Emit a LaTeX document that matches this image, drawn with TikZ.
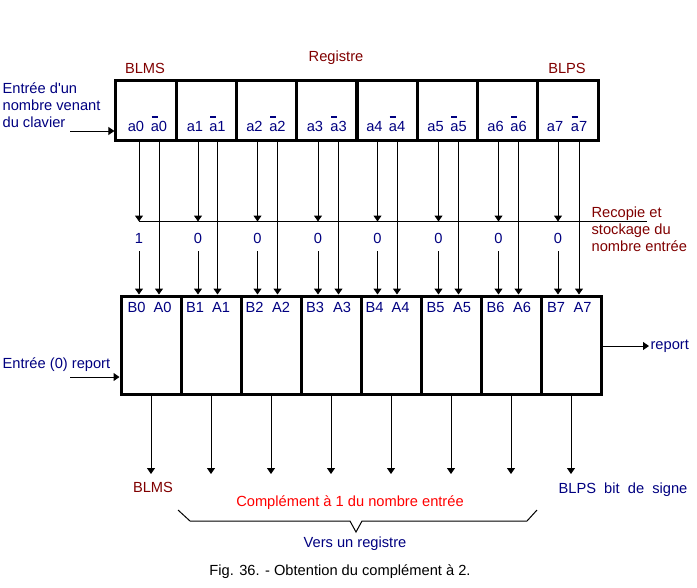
\documentclass[tikz,border=0pt]{standalone}
\usepackage{fontspec}
\setmainfont{Liberation Sans}
\usetikzlibrary{arrows.meta}
\definecolor{navytxt}{RGB}{0,0,128}
\definecolor{maroon}{RGB}{128,0,0}
\newcommand{\abar}{\rlap{\hspace{0.6pt}\rule[10pt]{4.5pt}{1.5pt}}a}
\tikzstyle{tcell}=[rectangle,draw=black,line width=2.25pt,minimum width=45.19pt,minimum height=45pt,inner sep=0pt]
\tikzstyle{bcell}=[rectangle,draw=black,line width=2.25pt,minimum width=45pt,minimum height=73.5pt,inner sep=0pt]
\tikzstyle{conn}=[-{Triangle[length=4.5pt,width=6pt]},line width=0.75pt]
\tikzstyle{bit}=[text=navytxt,inner sep=1pt]
\tikzstyle{cbit}=[text=navytxt,inner sep=1pt,anchor=base]
\tikzstyle{note}=[text=maroon,inner sep=1pt]
\tikzstyle{val}=[text=navytxt,inner sep=6pt]

\begin{document}
\begin{tikzpicture}[x=0.75pt,y=-0.75pt,font=\fontsize{11}{12.75}\selectfont]
\useasboundingbox (0,0) rectangle (697,587);
\node[note] (reg) at (336,58) {Registre};
\node[note] (msb) at (145,68) {BLMS};
\node[note] (lsb) at (567,68) {BLPS};
\node[tcell] (t0) at (146,110) {};\node[tcell] (t1) at (206.5,110) {};\node[tcell] (t2) at (266.5,110) {};\node[tcell] (t3) at (327,110) {};
\node[tcell] (t4) at (387,110) {};\node[tcell] (t5) at (447.5,110) {};\node[tcell] (t6) at (507.5,110) {};\node[tcell] (t7) at (568,110) {};
\node[cbit] (a0) at (136,131) {a0};\node[cbit] (n0) at (159,131) {\abar0};
\node[cbit] (a1) at (195,131) {a1};\node[cbit] (n1) at (217.5,131) {\abar1};
\node[cbit] (a2) at (254.5,131) {a2};\node[cbit] (n2) at (277.5,131) {\abar2};
\node[cbit] (a3) at (315,131) {a3};\node[cbit] (n3) at (338.5,131) {\abar3};
\node[cbit] (a4) at (374.5,131) {a4};\node[cbit] (n4) at (397,131) {\abar4};
\node[cbit] (a5) at (435.5,131) {a5};\node[cbit] (n5) at (458.5,131) {\abar5};
\node[cbit] (a6) at (495.5,131) {a6};\node[cbit] (n6) at (518.5,131) {\abar6};
\node[cbit] (a7) at (555,131) {a7};\node[cbit] (n7) at (579,131) {\abar7};
\node[bit,anchor=west,align=left] (kbd) at (1,105) {Entrée d\textquotesingle un\\nombre venant\\du clavier};
\coordinate (kin) at (70,131);
\draw[conn] (kin)--(kin -| t0.west);

\coordinate (rec) at (647,221.5);
\node[val] (v0) at (139,238) {1};\node[val] (v1) at (198,238) {0};\node[val] (v2) at (257.5,238) {0};\node[val] (v3) at (318,238) {0};
\node[val] (v4) at (377.5,238) {0};\node[val] (v5) at (438.5,238) {0};\node[val] (v6) at (498.5,238) {0};\node[val] (v7) at (558,238) {0};
\draw[line width=0.75pt] (v0 |- rec)--(rec);
\node[note,anchor=west,align=left] (cp) at (590,229) {Recopie et\\stockage du\\nombre entrée};

\node[bcell] (b0) at (151,345) {};\node[bcell] (b1) at (211,345) {};\node[bcell] (b2) at (271,345) {};\node[bcell] (b3) at (331,345) {};
\node[bcell] (b4) at (391,345) {};\node[bcell] (b5) at (451,345) {};\node[bcell] (b6) at (511,345) {};\node[bcell] (b7) at (571,345) {};
\node[cbit] (B0) at (136.5,312.5) {B0};\node[cbit] (A0) at (162.5,312.5) {A0};
\node[cbit] (B1) at (195,312.5) {B1};\node[cbit] (A1) at (221,312.5) {A1};
\node[cbit] (B2) at (254.5,312.5) {B2};\node[cbit] (A2) at (281,312.5) {A2};
\node[cbit] (B3) at (315,312.5) {B3};\node[cbit] (A3) at (342,312.5) {A3};
\node[cbit] (B4) at (374.5,312.5) {B4};\node[cbit] (A4) at (400.5,312.5) {A4};
\node[cbit] (B5) at (435.5,312.5) {B5};\node[cbit] (A5) at (462,312.5) {A5};
\node[cbit] (B6) at (495.5,312.5) {B6};\node[cbit] (A6) at (522,312.5) {A6};
\node[cbit] (B7) at (556,312.5) {B7};\node[cbit] (A7) at (582.5,312.5) {A7};

\draw[conn](v0 |- t0.south)--(v0 |- rec);\draw[conn](v0.south)--(v0 |- b0.north);\draw[conn](n0 |- t0.south)--(n0 |- b0.north);
\draw[conn](v1 |- t1.south)--(v1 |- rec);\draw[conn](v1.south)--(v1 |- b1.north);\draw[conn](n1 |- t1.south)--(n1 |- b1.north);
\draw[conn](v2 |- t2.south)--(v2 |- rec);\draw[conn](v2.south)--(v2 |- b2.north);\draw[conn](n2 |- t2.south)--(n2 |- b2.north);
\draw[conn](v3 |- t3.south)--(v3 |- rec);\draw[conn](v3.south)--(v3 |- b3.north);\draw[conn](n3 |- t3.south)--(n3 |- b3.north);
\draw[conn](v4 |- t4.south)--(v4 |- rec);\draw[conn](v4.south)--(v4 |- b4.north);\draw[conn](n4 |- t4.south)--(n4 |- b4.north);
\draw[conn](v5 |- t5.south)--(v5 |- rec);\draw[conn](v5.south)--(v5 |- b5.north);\draw[conn](n5 |- t5.south)--(n5 |- b5.north);
\draw[conn](v6 |- t6.south)--(v6 |- rec);\draw[conn](v6.south)--(v6 |- b6.north);\draw[conn](n6 |- t6.south)--(n6 |- b6.north);
\draw[conn](v7 |- t7.south)--(v7 |- rec);\draw[conn](v7.south)--(v7 |- b7.north);\draw[conn](n7 |- t7.south)--(n7 |- b7.north);

\node[bit,anchor=west] (cin) at (1,365) {Entrée (0) report};
\coordinate (cin0) at (70,377);
\draw[conn] (cin0)--(cin0 -| b0.west);
\node[bit,anchor=west] (rep) at (649,346) {report};
\draw[conn] (b7.east |- rep)--(rep.west);

\coordinate (out) at (0,474);
\draw[conn](b0.south)--(b0 |- out);\draw[conn](b1.south)--(b1 |- out);\draw[conn](b2.south)--(b2 |- out);\draw[conn](b3.south)--(b3 |- out);
\draw[conn](b4.south)--(b4 |- out);\draw[conn](b5.south)--(b5 |- out);\draw[conn](b6.south)--(b6 |- out);\draw[conn](b7.south)--(b7 |- out);

\node[note] (msb2) at (153,487) {BLMS};
\node[bit] (lsb2) at (623,490) {BLPS~ bit~ de~ signe};
\node[text=red,inner sep=1pt] (cpl) at (350,503) {Complément à 1 du nombre entrée};
\draw[line width=0.75pt] (178,510)--(190,521)--(350,521)--(356,532)--(362,521)--(527,521)--(537,510);
\node[bit] (dst) at (355,544) {Vers un registre};
\node[inner sep=1pt] (cap) at (340,572) {Fig. 36. - Obtention du complément à 2.};
\end{tikzpicture}
\end{document}
